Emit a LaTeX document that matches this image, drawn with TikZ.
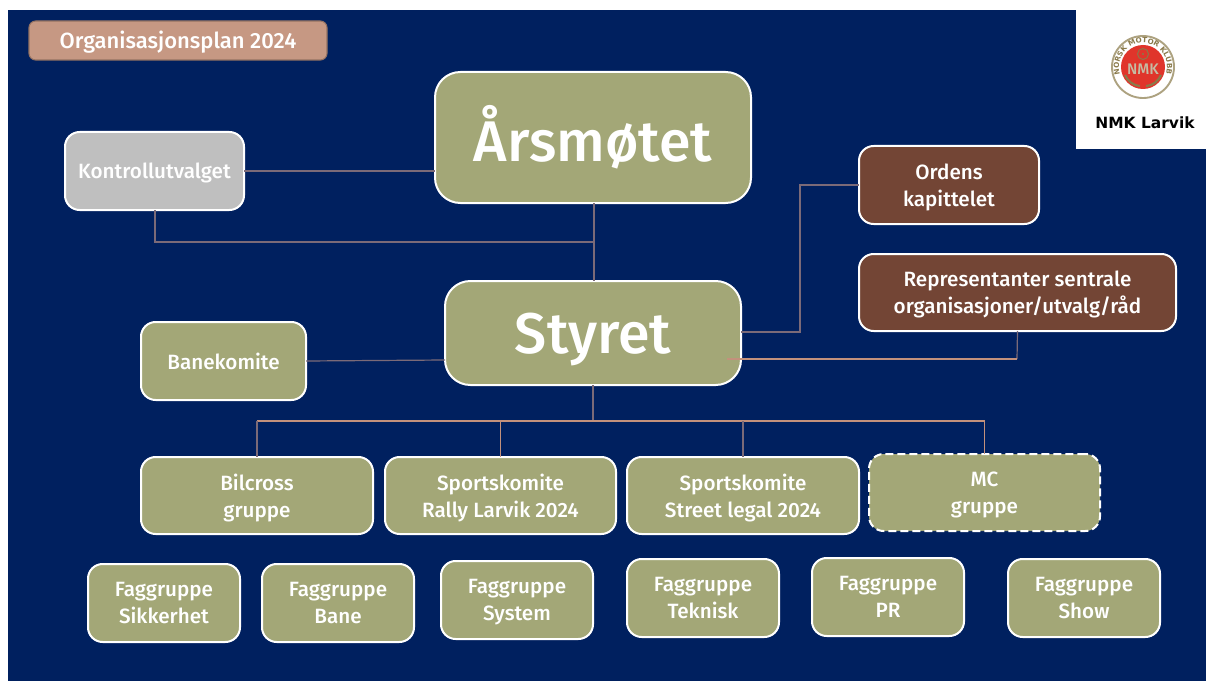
\documentclass[tikz,border=0pt]{standalone}
\usepackage{fontspec}
\setmainfont{Fira Sans Medium}
\newfontfamily\logofont{DejaVu Sans}
\usetikzlibrary{decorations.text}
\definecolor{navy}{HTML}{00205F}
\definecolor{olive}{HTML}{A3A777}
\definecolor{brownbox}{HTML}{734535}
\definecolor{greybox}{HTML}{BFBFBF}
\definecolor{rosebox}{HTML}{C69883}
\definecolor{lineA}{HTML}{7B6A78}
\definecolor{lineB}{HTML}{C3917C}
\definecolor{redlogo}{HTML}{E0352B}
\definecolor{goldlogo}{HTML}{8A7A4A}
\tikzset{
 box/.style={draw=white,line width=1.5pt,text=white,align=center,inner sep=0pt,outer sep=0pt,
   text depth=-1.5pt,font=\fontsize{15.5}{20}\selectfont},
 gbox/.style={box,fill=olive,rounded corners=11pt},
 fbox/.style={gbox,text depth=-5pt,minimum width=114pt,minimum height=58.5pt},
 bigbox/.style={box,fill=olive,rounded corners=19pt,font=\fontsize{43}{50}\selectfont},
 brbox/.style={box,fill=brownbox,rounded corners=11pt},
 lnA/.style={draw=lineA,line width=0.9pt},
 lnB/.style={draw=lineB,line width=0.8pt},
 sz/.style 2 args={minimum width=#1*0.75pt,minimum height=#2*0.75pt},
}
\begin{document}
\begin{tikzpicture}[x=0.75pt,y=-0.75pt]
\useasboundingbox (0,0) rectangle (1206,681);
\fill[white] (0,0) rectangle (1206,681);
\fill[navy] (8,10) rectangle (1206,681);
% logo
\fill[white] (1076,0) rectangle (1206,149);
\begin{scope}[shift={(1143,67)},x=0.75pt,y=0.75pt]
 \fill[white] (0,0) circle (31);
 \draw[goldlogo!70!white,line width=1.4pt] (0,0) circle (31);
 \fill[redlogo] (0,0) circle (22);
 \path[postaction={decorate,decoration={text along path,text align=center,
   text={|\logofont\fontsize{5.4}{6}\selectfont\bfseries\color{goldlogo}|NORSK MOTOR KLUBB}}}]
   (-145:24) arc[start angle=215,end angle=-35,radius=24];
 \draw[goldlogo,line width=0.7pt] (0,13) circle (5.5);
 \fill[goldlogo] (0,13) circle (1.2);
 \node[text=goldlogo!50!white,font=\fontsize{11.5}{12}\selectfont,inner sep=0pt] (nmk) at (0,-2) {NMK};
 \draw[goldlogo,line width=1.6pt] (-3,-19) .. controls (-11,-18) and (-15,-14) .. (-18,-8);
 \draw[goldlogo,line width=1.6pt] (3,-19) .. controls (11,-18) and (15,-14) .. (18,-8);
\end{scope}
\node[font=\logofont\fontsize{11.6}{12}\selectfont\bfseries,text=black,inner sep=0pt] (nmkl) at (1145,123) {NMK Larvik};
% boxes
\node[box,fill=rosebox,draw=rosebox!75!black,line width=0.8pt,rounded corners=5pt,text depth=1pt,font=\fontsize{16.5}{20}\selectfont,sz={298}{39}] (org) at (178,40.5) {Organisasjonsplan 2024};
\node[bigbox,text depth={},sz={316}{131}] (ars) at (593,137.5) {Årsmøtet};
\node[box,fill=greybox,rounded corners=11pt,sz={179}{78}] (kon) at (154.5,171) {Kontrollutvalget};
\node[brbox,sz={180}{78}] (ord) at (949,185) {Ordens\\kapittelet};
\node[brbox,text depth=-3.5pt,sz={317}{77}] (rep) at (1017.5,292.5) {Representanter sentrale\\organisasjoner/utvalg/råd};
\node[bigbox,text depth=-14pt,sz={296}{104}] (sty) at (593,333) {Styret};
\node[gbox,text depth=-2pt,sz={165}{78}] (ban) at (223.5,361) {Banekomite};
\node[gbox,sz={232}{77}] (bil) at (257,495.5) {Bilcross\\gruppe};
\node[gbox,sz={231}{77}] (sp1) at (500.5,495.5) {Sportskomite\\Rally Larvik 2024};
\node[gbox,sz={232}{77}] (sp2) at (743,495.5) {Sportskomite\\Street legal 2024};
\node[gbox,dash pattern=on 6pt off 3pt,sz={231}{77}] (mc) at (984.5,492.5) {MC\\gruppe};
\node[fbox] (f1) at (164,603) {Faggruppe\\Sikkerhet};
\node[fbox] (f2) at (338,603) {Faggruppe\\Bane};
\node[fbox] (f3) at (517,600) {Faggruppe\\System};
\node[fbox] (f4) at (703,598) {Faggruppe\\Teknisk};
\node[fbox] (f5) at (888,597) {Faggruppe\\PR};
\node[fbox] (f6) at (1084,598) {Faggruppe\\Show};
% connectors
\coordinate (kj) at (594,242);
\coordinate (bus) at (593,421);
\coordinate (ra) at (800,332);
\coordinate (rj) at (1017,359);
\coordinate (rin) at (727,359);
\coordinate (bj) at (445,360);
\draw[lnA] (kon.east) -- (kon.east -| ars.west);
\draw[lnA] (kon.south) ++(0.5,0) |- (kj);
\draw[lnA] (kj |- ars.south) -- (kj |- sty.north);
\draw[lnA] (sty.east |- ra) -- (ra) |- (ord.west);
\draw[lnA] (rep.south) -- (rj);
\draw[lnB] (rj) -- (rin);
\draw[lnA] (ban.east) -- (bj);
\draw[lnA] (sty.south) -- (bus);
\draw[lnB] (bil.north |- bus) -- (mc.north |- bus);
\draw[lnA] (bil.north |- bus) -- (bil.north);
\draw[lnB] (sp1.north |- bus) -- (sp1.north);
\draw[lnA] (sp2.north |- bus) -- (sp2.north);
\draw[lnB] (mc.north |- bus) -- (mc.north);
\end{tikzpicture}
\end{document}
